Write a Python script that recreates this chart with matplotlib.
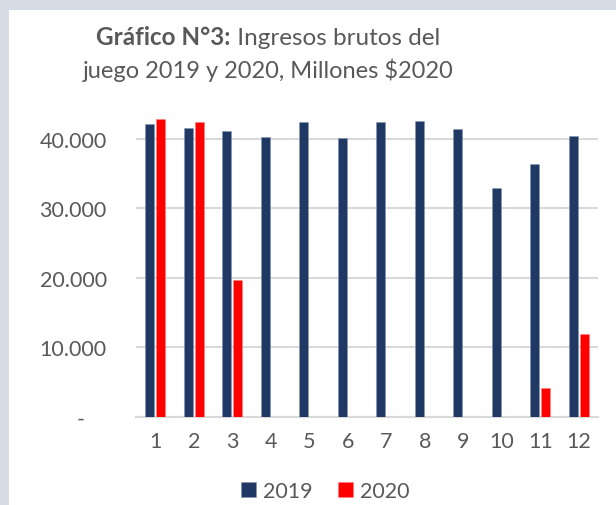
import numpy as np
import matplotlib.pyplot as plt
from matplotlib.ticker import FuncFormatter

months = ["1", "2", "3", "4", "5", "6", "7", "8", "9", "10", "11", "12"]
ingresos_2019 = [42100, 41600, 41050, 40300, 42450, 40050, 42450, 42500, 41350, 32900, 36400, 40400]
ingresos_2020 = [42800, 42350, 19750, 0, 0, 0, 0, 0, 0, 0, 4200, 11950]

plt.rcParams['font.family'] = ['Lato', 'DejaVu Sans']
grey = "#595959"

fig = plt.figure(figsize=(6.16, 5.06), dpi=100)
fig.patch.set_facecolor("#D6DCE5")

# white chart area
bg = fig.add_axes([9 / 616, 0, 1 - 9 / 616, 1 - 11 / 506])
bg.set_facecolor("white")
bg.set_xticks([])
bg.set_yticks([])
for s in bg.spines.values():
    s.set_visible(False)
bg.set_zorder(0)

ax = fig.add_axes([136 / 616, 1 - 418 / 506, 462 / 616, 313 / 506])
ax.set_facecolor("none")
ax.set_zorder(1)

x = np.arange(len(months))
w = 0.23
ax.bar(x - 0.146, ingresos_2019, w, color="#203864", edgecolor="#8497B0", linewidth=0.4, label="2019", zorder=3)
ax.bar(x + 0.146, ingresos_2020, w, color="#FF0000", edgecolor="#FF7F7F", linewidth=0.4, label="2020", zorder=3)

ax.set_xlim(-0.5, 11.5)
ax.set_ylim(0, 45000)
ax.set_yticks([0, 10000, 20000, 30000, 40000])
ax.yaxis.set_major_formatter(FuncFormatter(lambda v, p: "-    " if v == 0 else f"{int(v):,}".replace(",", ".")))
ax.set_xticks(x)
ax.set_xticklabels(months)
ax.grid(axis="y", color="#D9D9D9", linewidth=1.5, zorder=0)
for s in ["top", "right", "left"]:
    ax.spines[s].set_visible(False)
ax.spines["bottom"].set_color("#D9D9D9")
ax.spines["bottom"].set_linewidth(1.5)
ax.tick_params(axis="both", length=0, labelsize=15.5, colors=grey)
ax.tick_params(axis="y", pad=21)
ax.tick_params(axis="x", pad=10)

leg = fig.legend(loc="center", bbox_to_anchor=(325 / 616, 1 - 492 / 506), ncol=2, frameon=False,
                 fontsize=15.5, handlelength=0.7, handleheight=0.7,
                 handletextpad=0.3, columnspacing=1.2)
for t in leg.get_texts():
    t.set_color(grey)

# title: bold part + regular part on line 1
fs = 17
t1 = fig.text(0, 1 - 45 / 506, "Gráfico N°3:", fontsize=fs + 0.5, fontweight="bold", color=grey, ha="left", va="baseline")
t2 = fig.text(0, 1 - 45 / 506, " Ingresos brutos del", fontsize=fs + 0.5, color=grey, ha="left", va="baseline")
fig.canvas.draw()
r = fig.canvas.get_renderer()
w1 = t1.get_window_extent(r).width / fig.bbox.width
w2 = t2.get_window_extent(r).width / fig.bbox.width
cx = 268 / 616
t1.set_x(cx - (w1 + w2) / 2)
t2.set_x(cx - (w1 + w2) / 2 + w1)
fig.text(cx, 1 - 78 / 506, "juego 2019 y 2020, Millones $2020", fontsize=fs, color=grey, ha="center", va="baseline")

fig.savefig("out.png", dpi=100, facecolor=fig.get_facecolor())
